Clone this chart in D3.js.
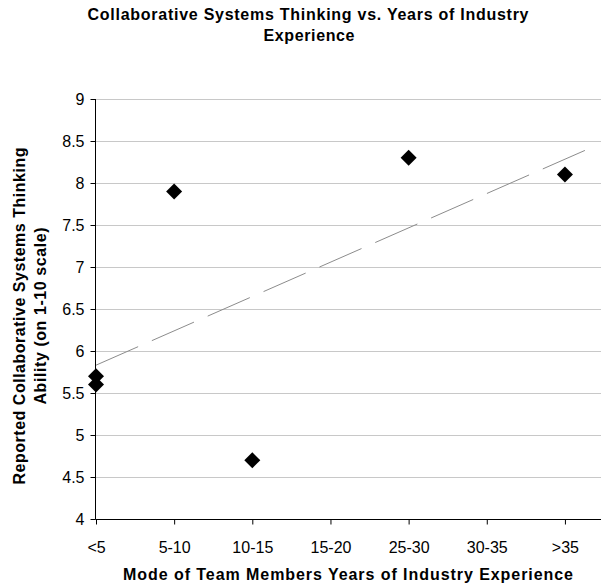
<!DOCTYPE html>
<html>
<head>
<meta charset="utf-8">
<script src="https://cdn.jsdelivr.net/npm/d3@7"></script>
<style>
  body { margin: 0; background: #fff; }
  text { font-family: Arial, "Liberation Sans", sans-serif; fill: #000; }
</style>
</head>
<body>
<div id="chart"></div>
<script>
// categories on the x axis, in order
var categories = ['<5', '5-10', '10-15', '15-20', '25-30', '30-35', '>35'];
// observed points: category and reported ability
var pointCats = ['<5', '<5', '5-10', '10-15', '25-30', '>35'];
var pointVals = [5.6, 5.7, 7.9, 4.7, 8.3, 8.1];
var yTicks = [4, 4.5, 5, 5.5, 6, 6.5, 7, 7.5, 8, 8.5, 9];
var trendExtent = [0, 6.29];   // in category index units

var width = 601, height = 588;
var margin = { top: 99, right: -3, bottom: 69, left: 96 };

var svg = d3.select('#chart').append('svg')
    .attr('width', width)
    .attr('height', height);

var x = d3.scaleLinear()
    .domain([0, 6.5])
    .range([margin.left, width - margin.right]);
var y = d3.scaleLinear()
    .domain([4, 9])
    .range([height - margin.bottom, margin.top]);

var idx = function(c){ return categories.indexOf(c); };

// gridlines
svg.append('g')
    .selectAll('line')
    .data(yTicks.slice(1))
    .enter().append('line')
    .attr('x1', margin.left).attr('x2', width)
    .attr('y1', function(d){ return Math.round(y(d)) + 0.5; })
    .attr('y2', function(d){ return Math.round(y(d)) + 0.5; })
    .attr('stroke', '#c8c8c8');

// axes
var yAxis = d3.axisLeft(y).tickValues(yTicks).tickSize(5).tickPadding(6)
    .tickFormat(d3.format('~g'));
var gy = svg.append('g')
    .attr('transform', 'translate(' + (margin.left - 0.5) + ',0)')
    .call(yAxis);
gy.select('.domain').attr('d', 'M0,' + y(9) + 'V' + (y(4) + 0.5));

var xAxis = d3.axisBottom(x).tickValues(d3.range(categories.length))
    .tickSize(5).tickPadding(17)
    .tickFormat(function(i){ return categories[i]; });
var gx = svg.append('g')
    .attr('transform', 'translate(0,' + (Math.round(y(4)) + 0.5) + ')')
    .call(xAxis);
gx.select('.domain').attr('d', 'M' + (margin.left - 0.5) + ',0H' + width);

svg.selectAll('.tick text')
    .style('font-size', '16px')
    .style('font-family', 'Arial, "Liberation Sans", sans-serif');
svg.selectAll('.domain, .tick line').attr('stroke', '#000');

// linear trend line from the points
var xs = pointCats.map(idx);
var mx = d3.mean(xs), my = d3.mean(pointVals);
var sxy = d3.sum(xs, function(v, i){ return (v - mx) * (pointVals[i] - my); });
var sxx = d3.sum(xs, function(v){ return (v - mx) * (v - mx); });
var slope = sxy / sxx, intercept = my - slope * mx;

svg.append('line')
    .attr('x1', x(trendExtent[0])).attr('y1', y(intercept + slope * trendExtent[0]))
    .attr('x2', x(trendExtent[1])).attr('y2', y(intercept + slope * trendExtent[1]))
    .attr('stroke', '#8c8c8c')
    .attr('stroke-width', 1)
    .attr('stroke-dasharray', '46,15');

// diamond markers
svg.append('g')
    .selectAll('path')
    .data(pointVals)
    .enter().append('path')
    .attr('d', 'M0,-8L8,0L0,8L-8,0Z')
    .attr('transform', function(d, i){
        return 'translate(' + x(xs[i]) + ',' + y(d) + ')';
    })
    .attr('fill', '#000');

// titles
var title = svg.append('text')
    .attr('text-anchor', 'middle')
    .style('font-size', '16px')
    .style('font-weight', 'bold');
title.append('tspan').attr('x', 308).attr('y', 20)
    .attr('textLength', 441).attr('lengthAdjust', 'spacing')
    .text('Collaborative Systems Thinking vs. Years of Industry');
title.append('tspan').attr('x', 309).attr('y', 41)
    .attr('textLength', 91).attr('lengthAdjust', 'spacing')
    .text('Experience');

svg.append('text')
    .attr('x', 348)
    .attr('y', 580)
    .attr('text-anchor', 'middle')
    .attr('textLength', 450).attr('lengthAdjust', 'spacing')
    .style('font-size', '16px')
    .style('font-weight', 'bold')
    .text('Mode of Team Members Years of Industry Experience');

var ylab = svg.append('text')
    .attr('transform', 'translate(0,316) rotate(-90)')
    .attr('text-anchor', 'middle')
    .style('font-size', '16px')
    .style('font-weight', 'bold');
ylab.append('tspan').attr('x', 0).attr('y', 25)
    .attr('textLength', 337).attr('lengthAdjust', 'spacing')
    .text('Reported Collaborative Systems Thinking');
ylab.append('tspan').attr('x', 0).attr('y', 46)
    .attr('textLength', 177).attr('lengthAdjust', 'spacing')
    .text('Ability (on 1-10 scale)');
</script>
</body>
</html>
